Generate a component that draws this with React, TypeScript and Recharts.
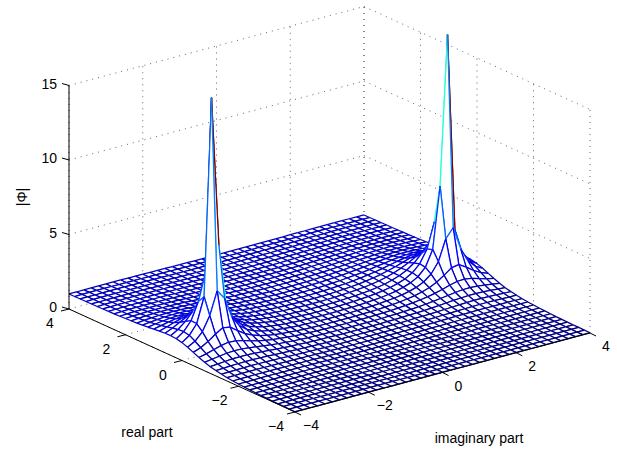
import { ScatterChart, Scatter, XAxis, YAxis } from "recharts";

// grid of the surface
const realValues = Array.from({ length: 41 }, (_, i) => (i - 20) / 5);
const imagValues = Array.from({ length: 41 }, (_, i) => (i - 20) / 5);

const realTicks = [-4, -2, 0, 2, 4];
const imagTicks = [-4, -2, 0, 2, 4];
const zTicks = [0, 5, 10, 15];

// |Phi| per real part (-4 .. 4), for imag = 0, 0.2 .. 4 (the surface is mirrored in imag).
// Estimates: peaks, shoulders and plateaus, the rest from a curve fitted to them.
const heightRows = [
  [.02,.02,.02,.02,.02,.02,.02,.02,.02,.02,.02,.02,.02,.02,.02,.02,.02,.02,.02,.02,.02],
  [.02,.02,.02,.02,.02,.02,.02,.02,.02,.02,.02,.02,.02,.02,.02,.02,.02,.02,.02,.02,.02],
  [.03,.03,.03,.03,.03,.03,.03,.03,.03,.03,.03,.03,.03,.03,.03,.03,.03,.03,.03,.03,.03],
  [.03,.03,.03,.03,.03,.03,.03,.03,.03,.03,.03,.03,.03,.03,.03,.03,.03,.03,.03,.03,.03],
  [.04,.04,.04,.04,.04,.04,.04,.04,.04,.04,.04,.04,.04,.04,.04,.04,.04,.04,.04,.04,.04],
  [.05,.05,.05,.05,.05,.05,.05,.05,.05,.05,.05,.05,.05,.05,.05,.05,.05,.05,.05,.05,.05],
  [.06,.06,.06,.06,.06,.06,.06,.06,.06,.06,.06,.06,.06,.06,.06,.06,.06,.06,.06,.06,.06],
  [.07,.07,.07,.07,.07,.07,.07,.07,.07,.08,.08,.08,.08,.08,.08,.08,.08,.08,.08,.08,.08],
  [.08,.08,.08,.08,.09,.09,.09,.09,.09,.09,.09,.10,.10,.10,.10,.10,.10,.10,.10,.10,.10],
  [.10,.10,.10,.10,.10,.10,.11,.11,.11,.11,.12,.12,.12,.12,.12,.12,.12,.12,.12,.12,.12],
  [.12,.12,.12,.12,.12,.13,.13,.13,.13,.14,.14,.15,.15,.15,.15,.16,.16,.16,.15,.15,.15],
  [.14,.14,.14,.15,.15,.15,.15,.16,.16,.17,.18,.18,.19,.19,.20,.20,.20,.20,.19,.19,.18],
  [.17,.17,.17,.17,.18,.18,.19,.19,.20,.21,.22,.23,.23,.24,.25,.25,.25,.25,.25,.24,.23],
  [.20,.20,.20,.20,.21,.21,.22,.23,.24,.25,.27,.28,.30,.31,.32,.33,.33,.32,.31,.30,.29],
  [.23,.23,.23,.24,.25,.25,.26,.28,.29,.31,.33,.35,.37,.40,.42,.43,.43,.42,.41,.38,.36],
  [.27,.27,.27,.28,.29,.30,.31,.33,.35,.37,.40,.44,.48,.52,.55,.58,.58,.57,.53,.49,.45],
  [.31,.31,.32,.32,.33,.35,.36,.39,.41,.45,.49,.55,.61,.68,.75,.80,.81,.78,.71,.64,.57],
  [.35,.36,.36,.37,.38,.40,.42,.45,.49,.54,.60,.68,.78,.91,1.06,1.18,1.21,1.12,.98,.83,.72],
  [.40,.40,.41,.42,.43,.45,.48,.52,.56,.63,.71,.83,.99,1.22,1.55,1.92,2.01,1.71,1.35,1.07,.89],
  [.45,.45,.46,.47,.49,.51,.54,.59,.64,.72,.82,.97,1.20,1.59,2.29,3.69,4.31,2.78,1.83,1.33,1.06],
  [.50,.50,.51,.52,.54,.57,.61,.65,.72,.80,.93,1.10,1.38,1.87,2.94,7.07,17.1,3.88,2.20,1.55,1.20],
  [.55,.55,.56,.58,.60,.63,.67,.72,.79,.88,1.01,1.19,1.47,1.94,2.80,4.51,5.26,3.39,2.23,1.63,1.29],
  [.60,.60,.61,.63,.65,.68,.72,.77,.84,.93,1.06,1.23,1.47,1.82,2.32,2.86,3.00,2.56,2.01,1.60,1.32],
  [.65,.65,.66,.67,.70,.73,.77,.82,.89,.97,1.09,1.24,1.43,1.67,1.93,2.16,2.20,2.04,1.78,1.52,1.31],
  [.69,.69,.70,.72,.74,.77,.81,.86,.92,1.00,1.10,1.22,1.36,1.52,1.68,1.79,1.81,1.73,1.59,1.43,1.28],
  [.73,.73,.74,.76,.78,.81,.84,.89,.95,1.02,1.10,1.19,1.30,1.41,1.50,1.57,1.58,1.54,1.45,1.34,1.24],
  [.77,.77,.78,.79,.81,.84,.87,.92,.97,1.02,1.09,1.17,1.24,1.32,1.38,1.42,1.43,1.40,1.35,1.28,1.20],
  [.80,.80,.81,.83,.84,.87,.90,.93,.98,1.03,1.08,1.14,1.20,1.25,1.30,1.32,1.33,1.31,1.27,1.22,1.16],
  [.83,.83,.84,.85,.87,.89,.92,.95,.99,1.03,1.07,1.12,1.16,1.20,1.23,1.25,1.25,1.24,1.21,1.18,1.13],
  [.86,.86,.87,.88,.89,.91,.93,.96,.99,1.02,1.06,1.10,1.13,1.16,1.18,1.20,1.20,1.19,1.17,1.14,1.11],
  [.88,.88,.89,.90,.91,.93,.95,.97,.99,1.02,1.05,1.08,1.11,1.13,1.14,1.15,1.16,1.15,1.14,1.12,1.09],
  [.90,.90,.91,.91,.93,.94,.96,.98,1.00,1.02,1.04,1.06,1.09,1.10,1.12,1.12,1.12,1.12,1.11,1.09,1.07],
  [.92,.92,.92,.93,.94,.95,.96,.98,1.00,1.02,1.04,1.05,1.07,1.08,1.09,1.10,1.10,1.10,1.09,1.08,1.06],
  [.93,.93,.94,.94,.95,.96,.97,.99,1.00,1.01,1.03,1.04,1.06,1.07,1.07,1.08,1.08,1.08,1.07,1.06,1.05],
  [.94,.94,.95,.95,.96,.97,.98,.99,1.00,1.01,1.02,1.03,1.04,1.05,1.06,1.06,1.06,1.06,1.06,1.05,1.04],
  [.95,.95,.96,.96,.97,.97,.98,.99,1.00,1.01,1.02,1.03,1.04,1.04,1.05,1.05,1.05,1.05,1.05,1.04,1.03],
  [.96,.96,.96,.97,.97,.98,.99,.99,1.00,1.01,1.02,1.02,1.03,1.04,1.04,1.04,1.04,1.04,1.04,1.03,1.03],
  [.97,.97,.97,.97,.98,.98,.99,.99,1.00,1.01,1.01,1.02,1.02,1.03,1.03,1.03,1.03,1.03,1.03,1.03,1.02],
  [.97,.97,.98,.98,.98,.99,.99,1.00,1.00,1.01,1.01,1.02,1.02,1.02,1.03,1.03,1.03,1.03,1.02,1.02,1.02],
  [.98,.98,.98,.98,.98,.99,.99,1.00,1.00,1.00,1.01,1.01,1.02,1.02,1.02,1.02,1.02,1.02,1.02,1.02,1.01],
  [.98,.98,.98,.98,.99,.99,.99,1.00,1.00,1.00,1.01,1.01,1.01,1.02,1.02,1.02,1.02,1.02,1.02,1.01,1.01],
];

const W = 617;
const H = 450;
const Z_MAX = 17.1;

const heightAt = (k: number, j: number) => heightRows[k][Math.abs(j - 20)];

// view of the 3d box, orthographic
const project = (re: number, im: number, z: number) => ({
  sx: 295 - ((re + 4) / 8) * 226 + ((im + 4) / 8) * 295,
  sy: 412 - ((re + 4) / 8) * 103 - ((im + 4) / 8) * 79 - z * 14.9,
});

// matlab jet
const jet = (z: number) => {
  const t = Math.min(1, Math.max(0, z / Z_MAX));
  const ch = (v: number) => Math.round(255 * Math.min(1, Math.max(0, v)));
  const r = 1.5 - Math.abs(4 * t - 3);
  const g = 1.5 - Math.abs(4 * t - 2);
  const b = 1.5 - Math.abs(4 * t - 1);
  return `rgb(${ch(r)},${ch(g)},${ch(b)})`;
};

// cells painted from the back corner to the front one
const cells: any[] = [];
for (let k = realValues.length - 2; k >= 0; k--) {
  for (let j = imagValues.length - 2; j >= 0; j--) {
    const a = project(realValues[k], imagValues[j], heightAt(k, j));
    const b = project(realValues[k + 1], imagValues[j], heightAt(k + 1, j));
    const c = project(realValues[k + 1], imagValues[j + 1], heightAt(k + 1, j + 1));
    const d = project(realValues[k], imagValues[j + 1], heightAt(k, j + 1));
    cells.push({
      ...a,
      corners: [a, b, c, d],
      colors: [jet(heightAt(k, j)), jet(heightAt(k + 1, j)), jet(heightAt(k, j + 1))],
    });
  }
}

const seg = (p: any, q: any) => ({ ...p, tx: q.sx, ty: q.sy });

const gridLines: any[] = [];
zTicks.slice(1).forEach((z) => {
  gridLines.push(seg(project(4, -4, z), project(4, 4, z)));
  gridLines.push(seg(project(4, 4, z), project(-4, 4, z)));
});
imagTicks.forEach((im) => {
  gridLines.push(seg(project(4, im, 0), project(4, im, 15)));
  gridLines.push(seg(project(-4, im, 0), project(4, im, 0)));
});
realTicks.forEach((re) => {
  gridLines.push(seg(project(re, 4, 0), project(re, 4, 15)));
  gridLines.push(seg(project(re, -4, 0), project(re, 4, 0)));
});

const axisLines: any[] = [
  seg(project(4, -4, 0), project(4, -4, 15)),
  seg(project(4, -4, 0), project(-4, -4, 0)),
  seg(project(-4, -4, 0), project(-4, 4, 0)),
];
zTicks.forEach((z) => {
  const p = project(4, -4, z);
  axisLines.push(seg(p, { sx: p.sx - 7, sy: p.sy - 2 }));
});
realTicks.forEach((re) => {
  const p = project(re, -4, 0);
  axisLines.push(seg(p, { sx: p.sx - 8, sy: p.sy + 2 }));
});
imagTicks.forEach((im) => {
  const p = project(-4, im, 0);
  axisLines.push(seg(p, { sx: p.sx + 6, sy: p.sy + 3 }));
});

const fmt = (v: number) => (v < 0 ? `\u2212${-v}` : `${v}`);

const labels: any[] = [
  ...zTicks.map((z) => {
    const p = project(4, -4, z);
    return { sx: p.sx - 12, sy: p.sy - 2, text: fmt(z), anchor: "end" };
  }),
  ...realTicks.map((re) => {
    const p = project(re, -4, 0);
    return { sx: p.sx - 19, sy: p.sy + 14, text: fmt(re), anchor: "middle" };
  }),
  ...imagTicks.map((im) => {
    const p = project(-4, im, 0);
    return { sx: p.sx + 16, sy: p.sy + 13, text: fmt(im), anchor: "middle" };
  }),
  { sx: 147, sy: 432, text: "real part", anchor: "middle" },
  { sx: 479, sy: 438, text: "imaginary part", anchor: "middle" },
  { sx: 22, sy: 197, text: "|\u03a6|", anchor: "middle", rotate: true },
];

const CellShape = (props: any) => {
  const { cx, cy, payload } = props;
  const dx = cx - payload.sx;
  const dy = cy - payload.sy;
  const [a, b, c, d] = payload.corners.map((p: any) => ({ x: p.sx + dx, y: p.sy + dy }));
  const [ca, cb, cd] = payload.colors;
  const edge = (p: any, q: any, color: string) => (
    <line x1={p.x} y1={p.y} x2={q.x} y2={q.y} stroke={color} strokeWidth={1.25} />
  );
  return (
    <g>
      <polygon points={`${a.x},${a.y} ${b.x},${b.y} ${c.x},${c.y} ${d.x},${d.y}`} fill="#fff" />
      {edge(a, d, ca)}
      {edge(a, b, ca)}
      {edge(b, c, cb)}
      {edge(d, c, cd)}
    </g>
  );
};

const DottedShape = (props: any) => {
  const { cx, cy, payload } = props;
  return (
    <line
      x1={cx}
      y1={cy}
      x2={cx + payload.tx - payload.sx}
      y2={cy + payload.ty - payload.sy}
      stroke="#666"
      strokeWidth={1}
      strokeDasharray="1 5"
    />
  );
};

const AxisShape = (props: any) => {
  const { cx, cy, payload } = props;
  return (
    <line
      x1={cx}
      y1={cy}
      x2={cx + payload.tx - payload.sx}
      y2={cy + payload.ty - payload.sy}
      stroke="#000"
      strokeWidth={1}
    />
  );
};

const LabelShape = (props: any) => {
  const { cx, cy, payload } = props;
  return (
    <text
      x={cx}
      y={cy}
      textAnchor={payload.anchor}
      dominantBaseline="central"
      fontFamily="Liberation Sans"
      fontSize={14}
      fill="#000"
      transform={payload.rotate ? `rotate(-90 ${cx} ${cy})` : undefined}
    >
      {payload.text}
    </text>
  );
};

export default function App() {
  return (
    <div style={{ position: "absolute", left: 0, top: 0, width: W, height: H, background: "#fff" }}>
      <ScatterChart width={W} height={H} margin={{ top: 0, right: 0, bottom: 0, left: 0 }}>
        <XAxis type="number" dataKey="sx" domain={[0, W]} hide />
        <YAxis type="number" dataKey="sy" domain={[0, H]} reversed hide />
        <Scatter data={gridLines} shape={DottedShape} isAnimationActive={false} />
        <Scatter data={cells} shape={CellShape} isAnimationActive={false} />
        <Scatter data={axisLines} shape={AxisShape} isAnimationActive={false} />
        <Scatter data={labels} shape={LabelShape} isAnimationActive={false} />
      </ScatterChart>
    </div>
  );
}
